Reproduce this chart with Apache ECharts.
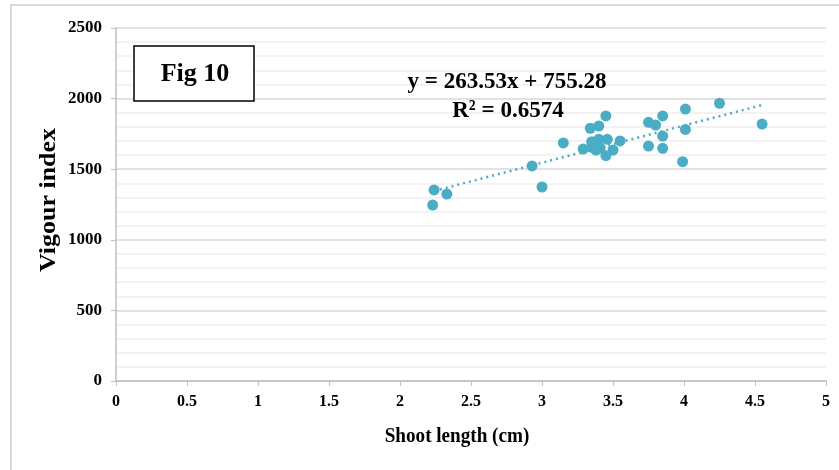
<!DOCTYPE html>
<html>
<head>
<meta charset="utf-8">
<script src="https://cdn.jsdelivr.net/npm/echarts@6/dist/echarts.min.js"></script>
<style>
  html, body { margin: 0; padding: 0; background: #fff; }
  #main { width: 839px; height: 470px; }
</style>
</head>
<body>
<div id="main"></div>
<script>
// shoot length (cm) vs vigour index
const shootLength = [2.24, 2.23, 2.33, 2.93, 3.00, 3.15, 3.29, 3.34, 3.35, 3.35,
  3.38, 3.40, 3.40, 3.41, 3.45, 3.45, 3.46, 3.50, 3.55, 3.75,
  3.75, 3.80, 3.85, 3.85, 3.85, 3.99, 4.01, 4.01, 4.25, 4.55];
const vigourIndex = [1353, 1246, 1324, 1523, 1374, 1686, 1643, 1790, 1695, 1655,
  1636, 1806, 1712, 1650, 1877, 1596, 1712, 1636, 1700, 1832,
  1664, 1813, 1877, 1735, 1648, 1553, 1926, 1782, 1967, 1820];

// linear trendline as printed on the chart
const slope = 263.53;
const intercept = 755.28;
const trendRange = [2.24, 4.57];
const rSquared = '0.6574';

const points = shootLength.map((x, i) => [x, vigourIndex[i]]);
const trend = trendRange.map(x => [x, slope * x + intercept]);

const font = '"Liberation Serif", "Times New Roman", serif';
const blue = '#4bacc6';

var chart = echarts.init(document.getElementById('main'));

var option = {
  animation: false,
  textStyle: { fontFamily: font },
  grid: { left: 116, right: 13, top: 28, bottom: 89 },
  xAxis: {
    type: 'value',
    min: 0, max: 5, interval: 0.5,
    axisLine: { show: true, lineStyle: { color: '#bfbfbf', width: 1.5 } },
    axisTick: { show: true, length: 5, lineStyle: { color: '#bfbfbf' } },
    axisLabel: { margin: 13, fontFamily: font, fontWeight: 'bold', fontSize: 16, color: '#000' },
    splitLine: { show: false }
  },
  yAxis: {
    type: 'value',
    min: 0, max: 2500, interval: 500,
    axisLine: { show: true, lineStyle: { color: '#bfbfbf', width: 1.5 } },
    axisTick: { show: true, length: 5, lineStyle: { color: '#bfbfbf' } },
    axisLabel: { margin: 14, fontFamily: font, fontWeight: 'bold', fontSize: 17, color: '#000',
      formatter: v => String(v) },
    splitLine: { show: true, lineStyle: { color: '#d9d9d9', width: 1.5 } },
    minorTick: { show: false, splitNumber: 5 },
    minorSplitLine: { show: true, lineStyle: { color: '#f0f0f0', width: 1.5 } }
  },
  series: [
    {
      type: 'line',
      data: trend,
      symbol: 'none',
      lineStyle: { color: blue, width: 2.5, type: [2, 4] },
      z: 1
    },
    {
      type: 'scatter',
      data: points,
      symbolSize: 11,
      itemStyle: { color: blue, opacity: 1 },
      z: 2
    }
  ],
  graphic: [
    {
      type: 'rect',
      shape: { x: 11, y: 5, width: 840, height: 480 },
      style: { fill: 'none', stroke: '#d9d9d9', lineWidth: 2 },
      silent: true
    },
    {
      type: 'rect',
      shape: { x: 134, y: 46, width: 120, height: 55 },
      style: { fill: '#fff', stroke: '#000', lineWidth: 1.5 },
      z: 10
    },
    {
      type: 'text',
      x: 195, y: 74,
      style: { text: 'Fig 10', font: 'bold 26px ' + font, fill: '#000', textAlign: 'center', textVerticalAlign: 'middle' },
      z: 11
    },
    {
      type: 'text',
      x: 507, y: 82, scaleX: 0.96,
      style: { text: 'y = ' + slope + 'x + ' + intercept, font: 'bold 24px ' + font, fill: '#000', textAlign: 'center', textVerticalAlign: 'middle' },
      z: 11
    },
    {
      type: 'text',
      x: 508, y: 111, scaleX: 0.96,
      style: { text: 'R² = ' + rSquared, font: 'bold 24px ' + font, fill: '#000', textAlign: 'center', textVerticalAlign: 'middle' },
      z: 11
    },
    {
      // x axis title
      type: 'text',
      x: 457, y: 436, scaleX: 0.87,
      style: { text: 'Shoot length (cm)', font: 'bold 22px ' + font, fill: '#000', textAlign: 'center', textVerticalAlign: 'middle' },
      z: 11
    },
    {
      // y axis title
      type: 'text',
      x: 49, y: 200, rotation: Math.PI / 2, scaleX: 1.13,
      style: { text: 'Vigour index', font: 'bold 23px ' + font, fill: '#000', textAlign: 'center', textVerticalAlign: 'middle' },
      z: 11
    }
  ]
};

chart.setOption(option);
</script>
</body>
</html>
